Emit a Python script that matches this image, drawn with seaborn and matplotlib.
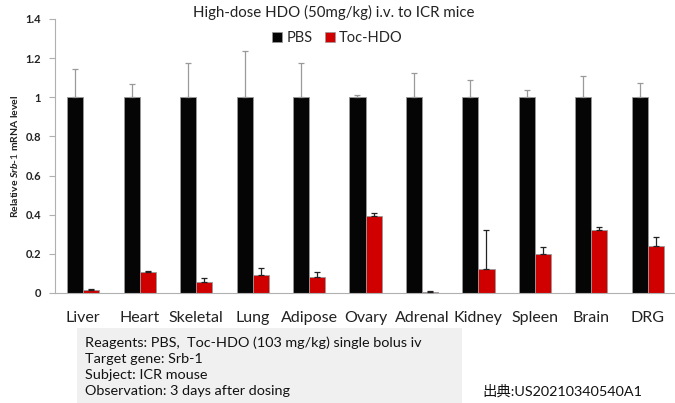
import matplotlib
matplotlib.use("Agg")
import matplotlib.pyplot as plt
import seaborn as sns
import pandas as pd
import numpy as np
from matplotlib.patches import Rectangle, Patch

# values
tissues = ["Liver", "Heart", "Skeletal", "Lung", "Adipose", "Ovary",
           "Adrenal", "Kidney", "Spleen", "Brain", "DRG"]
pbs_mean = [1, 1, 1, 1, 1, 1, 1, 1, 1, 1, 1]
pbs_err = [0.145, 0.07, 0.175, 0.235, 0.175, 0.012, 0.124, 0.088, 0.035, 0.11, 0.073]
toc_mean = [0.015, 0.105, 0.055, 0.09, 0.08, 0.392, 0.006, 0.122, 0.2, 0.322, 0.24]
toc_err = [0.005, 0.009, 0.023, 0.038, 0.027, 0.015, 0.003, 0.2, 0.035, 0.015, 0.046]

groups = ["PBS", "Toc-HDO"]
colors = {"PBS": "#050505", "Toc-HDO": "#d00000"}

df = pd.DataFrame({
    "tissue": tissues * 2,
    "group": ["PBS"] * len(tissues) + ["Toc-HDO"] * len(tissues),
    "value": pbs_mean + toc_mean,
    "err": pbs_err + toc_err,
})

sns.set_style("white")
plt.rcParams["font.family"] = ["Lato", "Noto Sans CJK JP", "DejaVu Sans"]
plt.rcParams["mathtext.fontset"] = "custom"
plt.rcParams["mathtext.rm"] = "Lato"
plt.rcParams["mathtext.it"] = "Lato:style=italic:weight=bold"

fig = plt.figure(figsize=(6.75, 4.03), dpi=100)
ax = fig.add_axes([0.0815, 0.273, 0.92, 0.68])

sns.barplot(data=df, x="tissue", y="value", hue="group", order=tissues,
            hue_order=groups, palette=colors, width=0.57, gap=0,
            errorbar=None, saturation=1, edgecolor="#9a9a9a", linewidth=0.6,
            legend=False, ax=ax)

# one-sided error bars, drawn at the centres of the bars seaborn placed
for i, g in enumerate(groups):
    bars = ax.patches[i * len(tissues):(i + 1) * len(tissues)]
    sub = df[df["group"] == g]
    xs = [b.get_x() + b.get_width() / 2 for b in bars]
    ecol = "#9a9a9a" if g == "PBS" else "#222222"
    ax.errorbar(xs, sub["value"], yerr=[np.zeros(len(xs)), sub["err"]],
                fmt="none", ecolor=ecol, elinewidth=0.9, capsize=2.5,
                capthick=0.9, zorder=3)

ax.set_ylim(0, 1.4)
ax.set_xlim(-0.5, len(tissues) - 0.5)
ax.set_yticks(np.arange(0, 1.41, 0.2))
ax.set_yticklabels(["0", "0.2", "0.4", "0.6", "0.8", "1", "1.2", "1.4"],
                   fontsize=8, fontweight="bold", color="#222222")
ax.set_xticks(range(len(tissues)))
ax.set_xticklabels(tissues, fontsize=11.5, color="#222222")
ax.set_xticks(np.arange(-0.5, len(tissues)), minor=True)
ax.tick_params(axis="x", which="major", length=0, pad=13)
ax.tick_params(axis="x", which="minor", length=4, color="#b0b0b0", direction="out")
ax.tick_params(axis="y", length=4, color="#b0b0b0", direction="out", pad=6)
ax.tick_params(bottom=True, left=True)
ax.set_xlabel("")
ax.set_ylabel(r"Relative $\mathit{Srb}$-$\mathit{1}$ mRNA level",
              fontsize=7.5, fontweight="bold", color="#222222")
ax.yaxis.set_label_coords(-0.056, 0.5)
for s in ["top", "right"]:
    ax.spines[s].set_visible(False)
for s in ["left", "bottom"]:
    ax.spines[s].set_color("#b0b0b0")
    ax.spines[s].set_linewidth(0.8)

handles = [Patch(facecolor=colors[g], edgecolor="#9a9a9a", linewidth=0.5) for g in groups]
ax.legend(handles, groups, loc="center", bbox_to_anchor=(0.455, 0.93), ncol=2,
          frameon=False, fontsize=10.5, handlelength=0.7, handleheight=0.7,
          handletextpad=0.3, columnspacing=0.8)

fig.text(0.495, 0.968, "High-dose HDO (50mg/kg) i.v. to ICR mice",
         ha="center", va="center", fontsize=10.8, color="#222222")

fig.patches.append(Rectangle((77 / 675, 0), (462 - 77) / 675, (403 - 328) / 403,
                             transform=fig.transFigure, facecolor="#f0f0f0",
                             edgecolor="none", zorder=0))
notes = ["Reagents: PBS,  Toc-HDO (103 mg/kg) single bolus iv",
         "Target gene: Srb-1",
         "Subject: ICR mouse",
         "Observation: 3 days after dosing"]
for k, line in enumerate(notes):
    fig.text(85 / 675, 1 - (343 + 16 * k) / 403, line, ha="left", va="center",
             fontsize=10.4, color="#111111")
fig.text(482 / 675, 1 - 391 / 403, "出典:US20210340540A1", ha="left",
         va="center", fontsize=10.4, color="#111111")

fig.savefig("out.png", dpi=100)
